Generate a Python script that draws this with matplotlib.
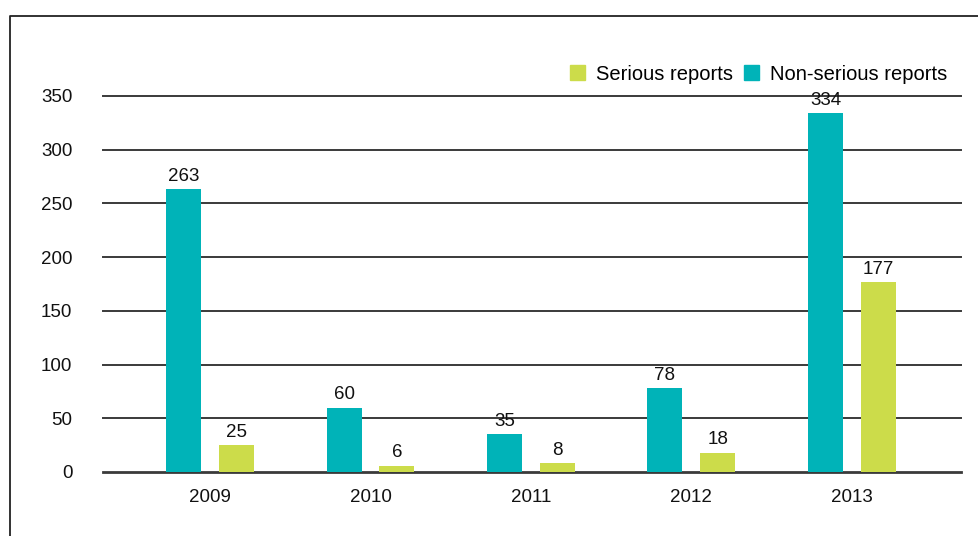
import matplotlib
matplotlib.use("Agg")
import matplotlib.pyplot as plt
from matplotlib.lines import Line2D
from matplotlib.patches import Patch
import numpy as np

years = ["2009", "2010", "2011", "2012", "2013"]
non_serious = [263, 60, 35, 78, 334]
serious = [25, 6, 8, 18, 177]
yticks = [0, 50, 100, 150, 200, 250, 300, 350]

teal = "#00B3B8"
green = "#CCDC4A"
grid_c = "#3a3a3a"

plt.rcParams['font.family'] = ['Liberation Sans', 'DejaVu Sans']

fig = plt.figure(figsize=(9.79, 5.36), dpi=100)
ax = fig.add_axes([103/979, 1-472/536, (961-103)/979, (472-96)/536])

x = np.arange(len(years))
w = 0.218
off = 0.165
b1 = ax.bar(x - off, non_serious, w, color=teal, zorder=3)
b2 = ax.bar(x + off, serious, w, color=green, zorder=3)

for rect, v in zip(list(b1) + list(b2), non_serious + serious):
    ax.text(rect.get_x() + rect.get_width()/2, v + 4, str(v),
            ha='center', va='bottom', fontsize=13.5, color='#111111', zorder=4)

ax.set_xlim(-0.667, 4.68)
ax.set_ylim(0, 350)
ax.set_yticks(yticks)
ax.set_yticklabels([str(t) for t in yticks])
ax.set_xticks(x)
ax.set_xticklabels(years)
for t in yticks:
    ax.axhline(t, color=grid_c, lw=1.4 if t else 2.0, zorder=2, clip_on=False)
for s in ax.spines.values():
    s.set_visible(False)
ax.tick_params(axis='both', length=0, labelsize=13.5, colors='#111111')
ax.tick_params(axis='x', pad=12)
ax.tick_params(axis='y', pad=22)
for lab in ax.get_yticklabels():
    lab.set_horizontalalignment('right')

handles = [Patch(color=green, label='Serious reports'),
           Patch(color=teal, label='Non-serious reports')]
fig.legend(handles=handles, loc='center right', bbox_to_anchor=(947/979, 1-74/536),
           ncol=2, frameon=False, fontsize=14.5, handlelength=0.75, handleheight=0.75,
           handletextpad=0.55, columnspacing=0.5, borderpad=0, borderaxespad=0)

fig.add_artist(Line2D([10/979, 10/979, 1.0], [0.0, 1-16/536, 1-16/536],
                      transform=fig.transFigure, color='#222222', lw=1.3))

fig.savefig("out.png", dpi=100)
